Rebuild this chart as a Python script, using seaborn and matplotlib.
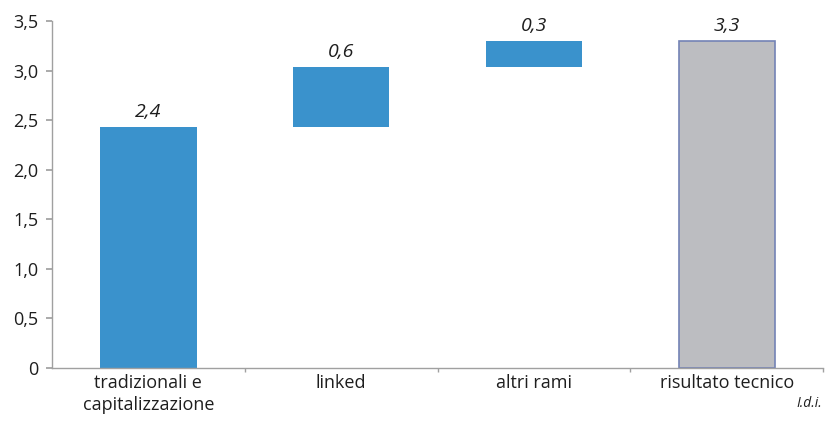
import matplotlib
matplotlib.use("Agg")
import matplotlib.pyplot as plt
import seaborn as sns
import pandas as pd
from matplotlib.ticker import FixedLocator

categories = ["tradizionali e\ncapitalizzazione", "linked", "altri rami", "risultato tecnico"]
starts = [0.0, 2.43, 3.04, 0.0]
heights = [2.43, 0.61, 0.26, 3.30]
labels = ["2,4", "0,6", "0,3", "3,3"]
yticks = [0, 0.5, 1.0, 1.5, 2.0, 2.5, 3.0, 3.5]
ytick_labels = ["0", "0,5", "1,0", "1,5", "2,0", "2,5", "3,0", "3,5"]

sns.set_theme(style="white")
plt.rcParams["font.family"] = ["Open Sans", "DejaVu Sans"]

df = pd.DataFrame({"cat": categories, "start": starts, "h": heights})
colors = ["#3a92cc", "#3a92cc", "#3a92cc", "#bcbdc1"]
edges = ["none", "none", "none", "#7383b5"]

fig = plt.figure(figsize=(8.33, 4.22), dpi=100)
ax = fig.add_axes([0.0624, 0.128, 0.926, 0.822])
for i in range(len(categories)):
    sub = df.iloc[[i]]
    sns.barplot(data=sub, x="cat", y="h", order=categories, color=colors[i],
                bottom=starts[i], width=0.5, ax=ax, saturation=1,
                edgecolor=edges[i], linewidth=1.2 if i == 3 else 0)

for i in range(len(categories)):
    top = starts[i] + heights[i]
    ax.text(i, top + 0.06, labels[i], ha="center", va="bottom", fontsize=14,
            style="italic", color="#1e1e1e")

ax.set_ylim(0, 3.5)
ax.set_xlim(-0.5, 3.5)
ax.set_yticks(yticks)
ax.set_yticklabels(ytick_labels, fontsize=13, color="#1e1e1e")
ax.set_xticks(range(len(categories)))
ax.set_xticklabels(categories, fontsize=13, color="#1e1e1e", linespacing=1.3)
ax.xaxis.set_minor_locator(FixedLocator([0.5, 1.5, 2.5, 3.5]))
ax.tick_params(axis="x", which="major", length=0, pad=4)
ax.tick_params(axis="x", which="minor", length=3, color="#a0a0a0", bottom=True)
ax.tick_params(axis="y", length=4, color="#a0a0a0", left=True, pad=6)
ax.set_xlabel("")
ax.set_ylabel("")
for s in ["top", "right"]:
    ax.spines[s].set_visible(False)
for s in ["left", "bottom"]:
    ax.spines[s].set_color("#a0a0a0")
    ax.spines[s].set_linewidth(1.0)

fig.text(0.987, 0.025, "I.d.i.", ha="right", va="bottom", fontsize=10,
         style="italic", color="#1e1e1e")

fig.savefig("out.png", dpi=100)
